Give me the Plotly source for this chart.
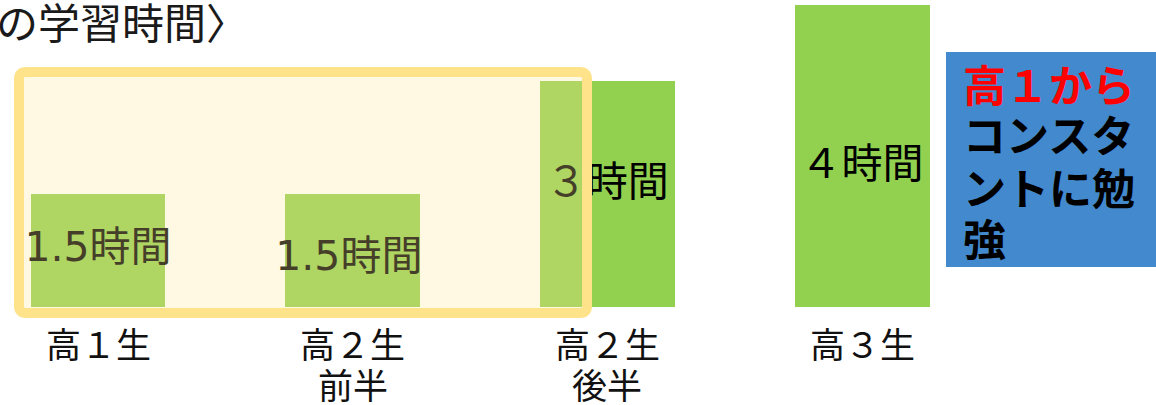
import plotly.graph_objects as go

# ---- data ----
categories = ["高１生", "高２生<br>前半", "高２生<br>後半", "高３生"]
hours = [1.5, 1.5, 3, 4]
bar_labels = ["1.5時間", "1.5時間", "３時間", "４時間"]
title_text = "の学習時間〉"
note_lines = ["高１から", "コンスタ", "ントに勉", "強"]

W, H = 1156, 405
X0PX, DXPX = 98.0, 254.67   # pixel of category 0, pixels per category
Y0PX, DYPX = 307.0, 75.5    # pixel of value 0, pixels per hour


def xd(px):
    return (px - X0PX) / DXPX


def yd(py):
    return (Y0PX - py) / DYPX


xs = list(range(len(categories)))

fig = go.Figure()
fig.add_trace(go.Bar(
    x=xs, y=hours, width=0.53, marker=dict(color="#92D050", line=dict(width=0)),
    hoverinfo="skip", showlegend=False,
))

# bar value labels (in trace layer so the overlay tints them)
nudge_y = [0.0, -0.13, 0.10, -0.15]
nudge_x = [0.0, -0.015, 0.0, 0.0]
fig.add_trace(go.Scatter(
    x=[x + n for x, n in zip(xs, nudge_x)],
    y=[h / 2 + n for h, n in zip(hours, nudge_y)],
    mode="text", text=bar_labels,
    textfont=dict(family="DejaVu Sans, Noto Sans CJK JP", size=41, color="#000000"),
    hoverinfo="skip", showlegend=False,
))

# yellow rounded highlight frame over first three bars
l, r, t, b = xd(19), xd(587), yd(72), yd(313)
rx, ry = 7 / DXPX, 7 / DYPX
path = (f"M {l+rx},{t} L {r-rx},{t} Q {r},{t} {r},{t-ry} L {r},{b+ry} Q {r},{b} {r-rx},{b} "
        f"L {l+rx},{b} Q {l},{b} {l},{b+ry} L {l},{t-ry} Q {l},{t} {l+rx},{t} Z")
fig.add_shape(type="path", path=path, xref="x", yref="y", layer="above",
              fillcolor="rgba(255,230,153,0.27)", line=dict(color="#FFE38A", width=10))

# blue note box
fig.add_shape(type="rect", xref="paper", yref="paper", layer="above",
              x0=946 / W, x1=1.0, y0=1 - 267 / H, y1=1 - 52 / H,
              fillcolor="#4389CD", line=dict(width=0))

annotations = []
# category labels, one annotation per line
line_px = [342, 383]
for x, c in zip(xs, categories):
    for j, part in enumerate(c.split("<br>")):
        annotations.append(dict(x=x, y=yd(line_px[j]), xref="x", yref="y", text=part,
                                showarrow=False, xanchor="center", yanchor="middle",
                                font=dict(family="Noto Sans CJK JP", size=35, color="#111111")))
# title (cut at left)
annotations.append(dict(x=-6 / W, y=1 - 21 / H, xref="paper", yref="paper", text=title_text,
                        showarrow=False, xanchor="left", yanchor="middle",
                        font=dict(family="Noto Sans CJK JP", size=42, color="#1a1a1a")))
# note text
note_y = [83, 133, 186, 237]
for i, (line, py) in enumerate(zip(note_lines, note_y)):
    annotations.append(dict(x=961 / W, y=1 - py / H, xref="paper", yref="paper",
                            text=f"<b>{line}</b>", showarrow=False, xanchor="left", yanchor="middle",
                            font=dict(family="Noto Sans CJK JP", size=43,
                                      color="#FF0000" if i == 0 else "#000000")))

fig.update_layout(
    width=W, height=H, margin=dict(l=0, r=0, t=0, b=0),
    paper_bgcolor="white", plot_bgcolor="white",
    xaxis=dict(range=[xd(0), xd(W)], visible=False, fixedrange=True),
    yaxis=dict(range=[yd(H), yd(0)], visible=False, fixedrange=True),
    annotations=annotations, bargap=0,
)

fig.write_html("out.html", config={"displayModeBar": False},
               post_script="document.body.style.margin='0';document.body.style.overflow='hidden';")
